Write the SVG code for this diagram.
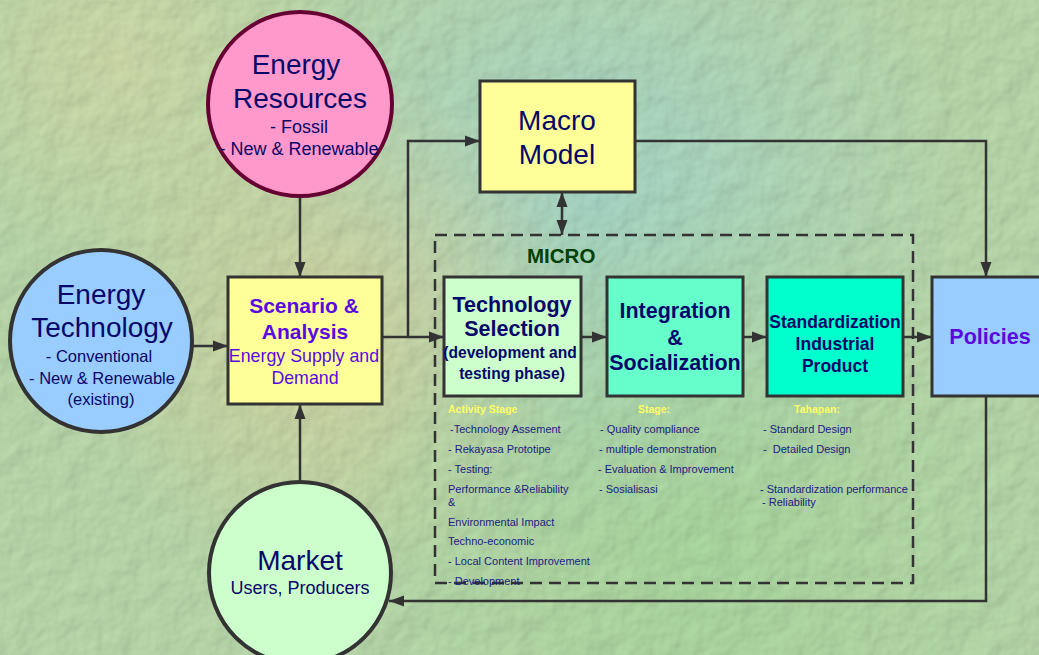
<svg xmlns="http://www.w3.org/2000/svg" width="1039" height="655" viewBox="0 0 1039 655">
  <defs>
    <style>
      .box { stroke: #333333; stroke-width: 3; }
      .circ { stroke: #333333; stroke-width: 4; }
      .wire { fill: none; stroke: #333333; stroke-width: 2.5; }
      .navy { fill: #07076a; font-family: "Liberation Sans", Arial, sans-serif; }
      .purple { fill: #5a0ae0; font-family: "Liberation Sans", Arial, sans-serif; }
      .b { font-weight: bold; }
      .note { fill: #1c1c80; font-family: "Liberation Sans", Arial, sans-serif; font-size: 11px; }
      .head { fill: #ffff66; font-family: "Liberation Sans", Arial, sans-serif; font-size: 10.5px; font-weight: bold; }
    </style>
    <marker id="arrow" markerUnits="userSpaceOnUse" markerWidth="16" markerHeight="12" refX="15" refY="6" orient="auto-start-reverse">
      <path d="M0,0.5 L15,6 L0,11.5 z" fill="#333333"/>
    </marker>
    <radialGradient id="tealGlow" cx="600" cy="200" r="360" gradientUnits="userSpaceOnUse">
      <stop offset="0" stop-color="#a2d2c6" stop-opacity="0.9"/>
      <stop offset="1" stop-color="#a2d2c6" stop-opacity="0"/>
    </radialGradient>
    <radialGradient id="warmGlow" cx="330" cy="330" r="260" gradientUnits="userSpaceOnUse">
      <stop offset="0" stop-color="#d2d09c" stop-opacity="0.85"/>
      <stop offset="1" stop-color="#d2d09c" stop-opacity="0"/>
    </radialGradient>
    <radialGradient id="warmGlow2" cx="120" cy="60" r="220" gradientUnits="userSpaceOnUse">
      <stop offset="0" stop-color="#cfd6a4" stop-opacity="0.8"/>
      <stop offset="1" stop-color="#cfd6a4" stop-opacity="0"/>
    </radialGradient>
    <radialGradient id="greenGlow" cx="700" cy="560" r="380" gradientUnits="userSpaceOnUse">
      <stop offset="0" stop-color="#a4d49a" stop-opacity="0.8"/>
      <stop offset="1" stop-color="#a4d49a" stop-opacity="0"/>
    </radialGradient>
    <filter id="stucco" x="0" y="0" width="100%" height="100%">
      <feTurbulence type="fractalNoise" baseFrequency="0.04" numOctaves="3" seed="7" result="noise"/>
      <feDiffuseLighting in="noise" surfaceScale="3" diffuseConstant="1" lighting-color="#ffffff" result="lit">
        <feDistantLight azimuth="225" elevation="50"/>
      </feDiffuseLighting>
      <feComposite in="SourceGraphic" in2="lit" operator="arithmetic" k1="0.5" k2="0.58" k3="0" k4="0"/>
    </filter>
  </defs>

  <!-- textured backdrop -->
  <g id="backdrop" filter="url(#stucco)">
    <rect x="0" y="0" width="1039" height="655" fill="#b6d4a8"/>
    <rect x="0" y="0" width="1039" height="655" fill="url(#tealGlow)"/>
    <rect x="0" y="0" width="1039" height="655" fill="url(#warmGlow)"/>
    <rect x="0" y="0" width="1039" height="655" fill="url(#warmGlow2)"/>
    <rect x="0" y="0" width="1039" height="655" fill="url(#greenGlow)"/>
  </g>

  <!-- MICRO frame -->
  <g id="micro">
    <rect x="435" y="235" width="478" height="348" fill="none" stroke="#333333" stroke-width="2.5" stroke-dasharray="12 7"/>
    <text x="527" y="263" class="b" font-family="Liberation Sans, Arial, sans-serif" font-size="20.5" fill="#004000">MICRO</text>
  </g>

  <!-- connectors -->
  <g id="connectors">
    <line class="wire" x1="300" y1="198" x2="300" y2="277" marker-end="url(#arrow)"/>
    <line class="wire" x1="300" y1="481" x2="300" y2="404" marker-end="url(#arrow)"/>
    <line class="wire" x1="193" y1="346" x2="228" y2="346" marker-end="url(#arrow)"/>
    <line class="wire" x1="382" y1="337" x2="444" y2="337" marker-end="url(#arrow)"/>
    <polyline class="wire" points="408,337 408,141 480,141" marker-end="url(#arrow)"/>
    <polyline class="wire" points="635,141 986,141 986,277" marker-end="url(#arrow)"/>
    <line class="wire" x1="562" y1="192" x2="562" y2="235" marker-start="url(#arrow)" marker-end="url(#arrow)"/>
    <line class="wire" x1="581" y1="337" x2="607" y2="337" marker-end="url(#arrow)"/>
    <line class="wire" x1="743" y1="337" x2="767" y2="337" marker-end="url(#arrow)"/>
    <line class="wire" x1="903" y1="337" x2="932" y2="337" marker-end="url(#arrow)"/>
    <polyline class="wire" points="986,396 986,601 389,601" marker-end="url(#arrow)"/>
  </g>

  <!-- Energy Resources -->
  <g id="energy-resources">
    <circle cx="300" cy="104" r="92" fill="#ff99cc" stroke="#660033" stroke-width="4"/>
    <text class="navy" text-anchor="middle" font-size="28" x="296" y="74">Energy</text>
    <text class="navy" text-anchor="middle" font-size="28" x="300" y="108">Resources</text>
    <text class="navy" text-anchor="middle" font-size="18" x="299" y="133">- Fossil</text>
    <text class="navy" text-anchor="middle" font-size="18" x="299" y="155">- New &amp; Renewable</text>
  </g>

  <!-- Energy Technology -->
  <g id="energy-technology">
    <circle cx="101" cy="341" r="91" fill="#99ccff" class="circ"/>
    <text class="navy" text-anchor="middle" font-size="28" x="101" y="304">Energy</text>
    <text class="navy" text-anchor="middle" font-size="28" x="102" y="337">Technology</text>
    <text class="navy" text-anchor="middle" font-size="16.5" x="99" y="362">- Conventional</text>
    <text class="navy" text-anchor="middle" font-size="16.5" x="102" y="384">- New &amp; Renewable</text>
    <text class="navy" text-anchor="middle" font-size="16.5" x="101" y="405">(existing)</text>
  </g>

  <!-- Scenario & Analysis -->
  <g id="scenario">
    <rect class="box" x="228" y="277" width="154" height="127" fill="#ffff99"/>
    <text class="purple b" text-anchor="middle" font-size="21" x="304" y="313">Scenario &amp;</text>
    <text class="purple b" text-anchor="middle" font-size="21" x="305" y="339">Analysis</text>
    <text class="purple" text-anchor="middle" font-size="17.8" x="304" y="362">Energy Supply and</text>
    <text class="purple" text-anchor="middle" font-size="17.8" x="305" y="384">Demand</text>
  </g>

  <!-- Macro Model -->
  <g id="macro-model">
    <rect class="box" x="480" y="81" width="155" height="111" fill="#ffff99"/>
    <text class="navy" text-anchor="middle" font-size="28" x="557" y="130">Macro</text>
    <text class="navy" text-anchor="middle" font-size="28" x="557" y="164">Model</text>
  </g>

  <!-- Technology Selection -->
  <g id="technology-selection">
    <rect class="box" x="444" y="277" width="137" height="119" fill="#ccffcc"/>
    <text class="navy b" text-anchor="middle" font-size="21.5" x="512" y="312">Technology</text>
    <text class="navy b" text-anchor="middle" font-size="21.5" x="512" y="336">Selection</text>
    <text class="navy b" text-anchor="middle" font-size="15.6" x="510" y="358">(development and</text>
    <text class="navy b" text-anchor="middle" font-size="15.6" x="512" y="379">testing phase)</text>
  </g>

  <!-- Integration & Socialization -->
  <g id="integration">
    <rect class="box" x="607" y="277" width="136" height="119" fill="#66ffcc"/>
    <text class="navy b" text-anchor="middle" font-size="21.5" x="675" y="318">Integration</text>
    <text class="navy b" text-anchor="middle" font-size="21.5" x="675" y="345">&amp;</text>
    <text class="navy b" text-anchor="middle" font-size="21.5" x="675" y="370">Socialization</text>
  </g>

  <!-- Standardization Industrial Product -->
  <g id="standardization">
    <rect class="box" x="767" y="277" width="136" height="119" fill="#00ffcc"/>
    <text class="navy b" text-anchor="middle" font-size="17.5" x="835" y="328">Standardization</text>
    <text class="navy b" text-anchor="middle" font-size="17.5" x="835" y="350">Industrial</text>
    <text class="navy b" text-anchor="middle" font-size="17.5" x="835" y="372">Product</text>
  </g>

  <!-- Policies -->
  <g id="policies">
    <rect class="box" x="932" y="277" width="112" height="119" fill="#99ccff"/>
    <text class="purple b" text-anchor="middle" font-size="21.5" x="990" y="344">Policies</text>
  </g>

  <!-- Market -->
  <g id="market">
    <circle cx="300" cy="573" r="91" fill="#ccffcc" class="circ"/>
    <text class="navy" text-anchor="middle" font-size="28" x="300" y="570">Market</text>
    <text class="navy" text-anchor="middle" font-size="18" x="300" y="594">Users, Producers</text>
  </g>

  <!-- activity notes -->
  <g id="notes-technology">
    <text class="head" x="448" y="413">Activity Stage</text>
    <text class="note" x="450" y="433">-Technology Assement</text>
    <text class="note" x="448" y="453">- Rekayasa Prototipe</text>
    <text class="note" x="448" y="473">- Testing:</text>
    <text class="note" x="448" y="493">Performance &amp;Reliability</text>
    <text class="note" x="448" y="506">&amp;</text>
    <text class="note" x="448" y="526">Environmental Impact</text>
    <text class="note" x="448" y="545">Techno-economic</text>
    <text class="note" x="448" y="565">- Local Content Improvement</text>
    <text class="note" x="448" y="585">- Development</text>
  </g>
  <g id="notes-integration">
    <text class="head" x="638" y="413">Stage:</text>
    <text class="note" x="600" y="433">- Quality compliance</text>
    <text class="note" x="599" y="453">- multiple demonstration</text>
    <text class="note" x="598" y="473">- Evaluation &amp; Improvement</text>
    <text class="note" x="599" y="493">- Sosialisasi</text>
  </g>
  <g id="notes-standardization">
    <text class="head" x="794" y="413">Tahapan:</text>
    <text class="note" x="763" y="433">- Standard Design</text>
    <text class="note" x="763" y="453" xml:space="preserve">-  Detailed Design</text>
    <text class="note" x="760" y="493">- Standardization performance</text>
    <text class="note" x="762" y="506">- Reliability</text>
  </g>
</svg>
